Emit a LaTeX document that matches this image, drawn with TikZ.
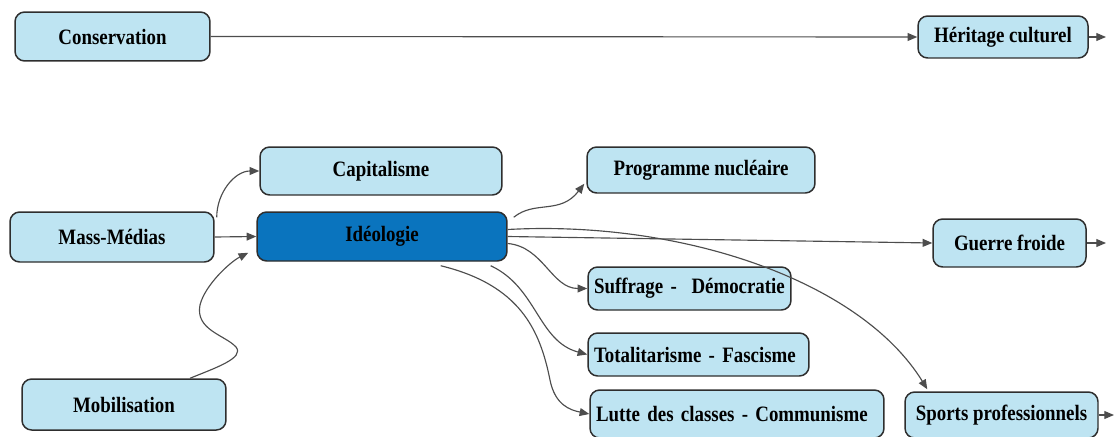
\documentclass[tikz,border=0pt]{standalone}
\usepackage{fontspec}
\setmainfont{Liberation Serif}[FakeStretch=0.86]
\usetikzlibrary{arrows.meta,calc}

\definecolor{boxfill}{HTML}{BEE4F2}
\definecolor{hubfill}{HTML}{0A74BE}
\definecolor{boxline}{HTML}{2E2E2E}
\definecolor{linkgray}{HTML}{4D4D4D}

\tikzset{
    box/.style={draw=boxline, line width=0.85pt, fill=boxfill, rounded corners=5.5pt,
        inner sep=0pt, font=\fontsize{12.5}{14}\selectfont\bfseries},
    hub/.style={box, fill=hubfill},
    leftbox/.style={box, inner xsep=0.12cm, align=left},
    link/.style={draw=linkgray, line width=0.65pt, -{Triangle[length=5.5pt,width=4.5pt]}}
}

\begin{document}
\begin{tikzpicture}[x=0.02cm,y=-0.02cm]
    \useasboundingbox (0,0) rectangle (1114,436);

    \node[box, minimum width=3.9cm, minimum height=0.98cm] (cons) at (112.5,36.5) {Conservation};
    \node[box, minimum width=3.4cm, minimum height=0.84cm] (her) at (1003,37) {Héritage culturel};
    \node[box, minimum width=4.84cm, minimum height=0.96cm] (cap) at (381,171) {Capitalisme};
    \node[box, minimum width=4.08cm, minimum height=1cm] (mm) at (112,237) {Mass-Médias};
    \node[hub, minimum width=5cm, minimum height=0.98cm] (ideo) at (382,236.5) {Idéologie};
    \node[box, minimum width=4.08cm, minimum height=1.02cm] (mob) at (124,404.5) {Mobilisation};
    \node[box, minimum width=4.56cm, minimum height=0.92cm] (prog) at (701,170) {Programme nucléaire};
    \node[box, minimum width=3.06cm, minimum height=0.96cm] (gf) at (1009.5,243) {Guerre froide};
    \node[leftbox, text width=3.82cm, minimum height=0.86cm] (suff) at (689.5,288.5) {Suffrage -\ \ Démocratie};
    \node[leftbox, text width=4.18cm, minimum height=0.86cm] (tota) at (698.5,354.5) {Totalitarisme - Fascisme};
    \node[leftbox, text width=5.64cm, minimum height=0.96cm] (lutte) at (737,414) {Lutte des classes - Communisme};
    \node[box, minimum width=3.86cm, minimum height=0.92cm] (sport) at (1001.5,415) {Sports professionnels};

    \coordinate (herout) at (1106,37);
    \coordinate (gfout) at (1106,243);
    \coordinate (sportout) at (1114,415);

    \draw[link] (cons.east) -- (her.west);
    \draw[link] (her.east) -- (herout);

    \draw[link] ($(mm.north east)+(2,6)$) to[out=90,in=180] (cap.west);
    \draw[link] (mm.east) -- (ideo.west);
    \draw[link] ($(mob.north)+(66,0)$)
        .. controls (215,368) and (245,358) .. (236,347)
        .. controls (225,335) and (195,330) .. (200,305)
        .. controls (205,285) and (230,262) .. ($(ideo.south west)+(-8,-9)$);

    \draw[link] ($(ideo.north east)+(6,6)$) .. controls (535,200) and (560,215) .. ($(prog.south west)+(-2,-10)$);
    \draw[link] (ideo.east) -- (gf.west);
    \draw[link] (gf.east) -- (gfout);
    \draw[link] ($(ideo.east)+(0,-7)$) .. controls (680,220) and (860,280) .. ($(sport.north west)+(23,-2)$);
    \draw[link] ($(ideo.east)+(0,7)$) to[out=-5,in=180] (suff.west);
    \draw[link] ($(ideo.south east)+(-17,4)$) to[out=-25,in=165] (tota.west);
    \draw[link] ($(ideo.south east)+(-67,4)$)
        .. controls (520,285) and (540,330) .. (550,380)
        .. controls (555,405) and (570,410) .. (lutte.west);
    \draw[link] (sport.east) -- (sportout);
\end{tikzpicture}
\end{document}
